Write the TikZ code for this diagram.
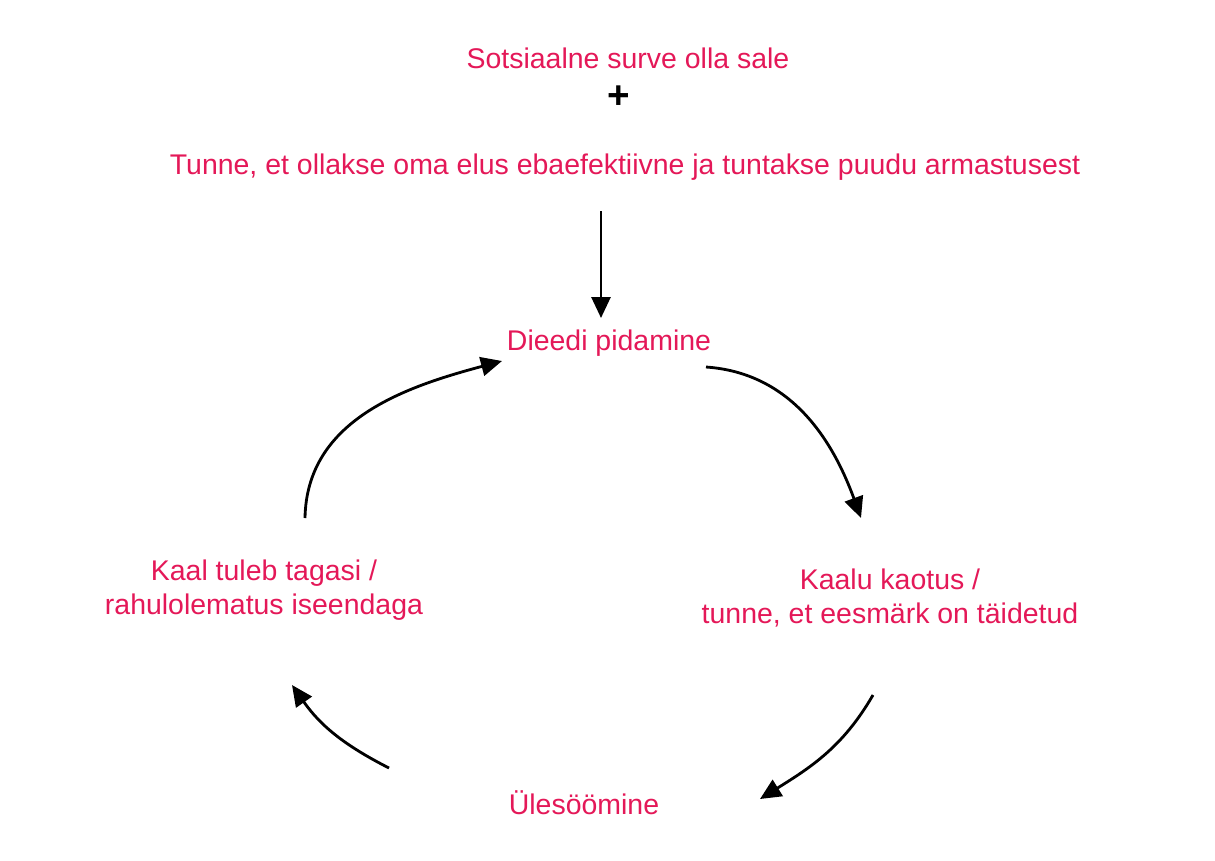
\documentclass[tikz,border=0pt]{standalone}
\usepackage{fontspec}
\setmainfont{Liberation Sans}
\usetikzlibrary{arrows.meta}
\definecolor{pinkred}{RGB}{228,24,88}
\begin{document}
\begin{tikzpicture}[x=0.02cm,y=0.02cm,
  lbl/.style={text=pinkred,font=\fontsize{16.2}{19.5}\selectfont,align=center,inner sep=0pt},
  arr/.style={line width=1.6pt,-{Triangle[length=0.42cm,width=0.38cm]}}]
\useasboundingbox (0,0) rectangle (1215,-860);
\node[lbl] (pressure) at (628,-58) {Sotsiaalne surve olla sale};
\node[font=\fontsize{22}{24}\selectfont\bfseries,inner sep=0pt] (plus) at (619,-97) {+};
\node[lbl] (feeling) at (625,-167) {Tunne, et ollakse oma elus ebaefektiivne ja tuntakse puudu armastusest};
\node[lbl] (diet) at (609,-343) {Dieedi pidamine};
\node[lbl] (loss) at (890,-598) {Kaalu kaotus /\\tunne, et eesmärk on täidetud};
\node[lbl] (over) at (584,-803) {Ülesöömine};
\node[lbl] (gain) at (264,-590) {Kaal tuleb tagasi /\\rahulolematus iseendaga};
\coordinate (a0) at (601,-211);
\coordinate (a1) at (601,-318);
\coordinate (b0) at (706,-367);
\coordinate (b1) at (861,-518);
\coordinate (c0) at (873,-695);
\coordinate (c1) at (760,-799);
\coordinate (d0) at (389,-768);
\coordinate (d1) at (292,-685);
\coordinate (e0) at (305,-518);
\coordinate (e1) at (502,-361);
\draw[arr] (a0) -- (a1);
\draw[arr] (b0) to[out=-4,in=110] (b1);
\draw[arr] (c0) to[out=-120,in=32] (c1);
\draw[arr] (d0) to[out=153,in=-55] (d1);
\draw[arr] (e0) to[out=89,in=195] (e1);
\end{tikzpicture}
\end{document}
